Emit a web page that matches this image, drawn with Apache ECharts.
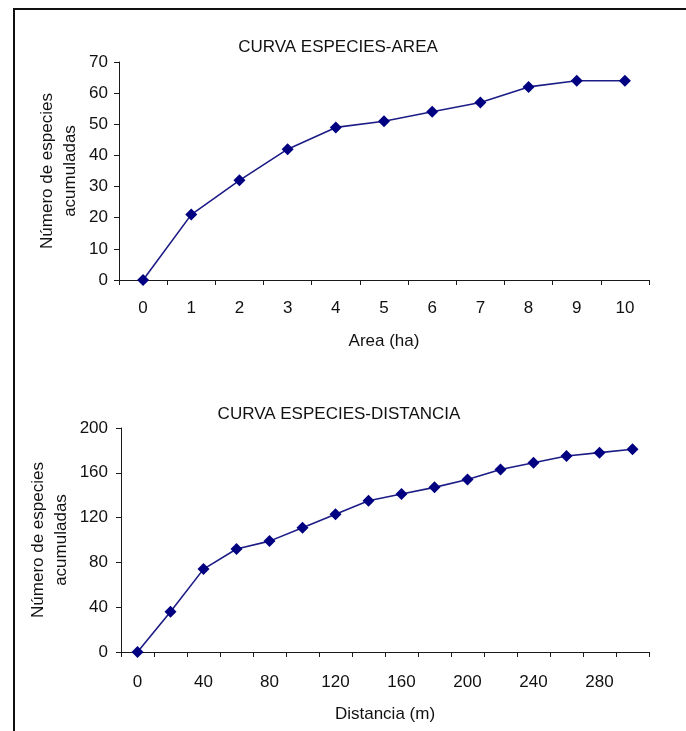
<!DOCTYPE html>
<html>
<head>
<meta charset="utf-8">
<script src="https://cdn.jsdelivr.net/npm/echarts@6/dist/echarts.min.js"></script>
<style>
html,body{margin:0;padding:0;background:#fff;}
#chart{width:686px;height:731px;}
</style>
</head>
<body>
<div id="chart"></div>
<script>
// ---- data ----
var areaCategories = ['0','1','2','3','4','5','6','7','8','9','10'];
var areaValues = [0, 21, 32, 42, 49, 51, 54, 57, 62, 64, 64];
var areaYTicks = {min: 0, max: 70, interval: 10};

var distCategories = ['0','20','40','60','80','100','120','140','160','180','200','220','240','260','280','300'];
var distValues = [0, 36, 74, 92, 99, 111, 123, 135, 141, 147, 154, 163, 169, 175, 178, 181];
var distYTicks = {min: 0, max: 200, interval: 40};

var titles = ['CURVA ESPECIES-AREA', 'CURVA ESPECIES-DISTANCIA'];
var yNames = ['Número de especies\nacumuladas', 'Número de especies\nacumuladas'];
var xNames = ['Area (ha)', 'Distancia (m)'];

// ---- chart ----
var FONT = '"Liberation Sans", Arial, sans-serif';
var TXT = '#111';
var AX = '#1a1a1a';
var chart = echarts.init(document.getElementById('chart'), null, {renderer: 'canvas'});

function xAxisCfg(idx, cats, name, labelInterval, margin, gap) {
  return {
    type: 'category', gridIndex: idx, data: cats, boundaryGap: true,
    name: name, nameLocation: 'middle', nameGap: gap, nameMoveOverlap: false,
    nameTextStyle: {color: TXT, fontSize: 17, fontFamily: FONT},
    axisLine: {lineStyle: {color: AX, width: 1}},
    axisTick: {show: true, interval: 0, length: 5, alignWithLabel: false, lineStyle: {color: AX}},
    axisLabel: {interval: labelInterval, margin: margin, color: TXT, fontSize: 17, fontFamily: FONT},
    splitLine: {show: false}
  };
}
function yAxisCfg(idx, t, name, gap, margin) {
  return {
    type: 'value', gridIndex: idx, min: t.min, max: t.max, interval: t.interval,
    name: name, nameLocation: 'middle', nameGap: gap, nameRotate: 90, nameMoveOverlap: false,
    nameTextStyle: {color: TXT, fontSize: 17, fontFamily: FONT, lineHeight: 23, align: 'center'},
    axisLine: {show: true, lineStyle: {color: AX, width: 1}},
    axisTick: {show: true, length: 5, lineStyle: {color: AX}},
    axisLabel: {margin: margin, color: TXT, fontSize: 17, fontFamily: FONT},
    splitLine: {show: false}
  };
}
function seriesCfg(idx, vals) {
  return {
    type: 'line', xAxisIndex: idx, yAxisIndex: idx, data: vals,
    symbol: 'diamond', symbolSize: [12, 12], showSymbol: true,
    lineStyle: {color: '#1c1c86', width: 1.6},
    itemStyle: {color: '#000080', borderWidth: 0},
    animation: false
  };
}

var option = {
  animation: false,
  backgroundColor: '#fff',
  title: [
    {text: titles[0], left: 333, top: 34, textAlign: 'center',
     textStyle: {color: TXT, fontSize: 17, fontWeight: 'normal', fontFamily: FONT}},
    {text: titles[1], left: 334, top: 401, textAlign: 'center',
     textStyle: {color: TXT, fontSize: 17, fontWeight: 'normal', fontFamily: FONT}}
  ],
  grid: [
    {left: 119, top: 62, width: 530, height: 218, containLabel: false},
    {left: 121, top: 428, width: 528, height: 224, containLabel: false}
  ],
  xAxis: [
    xAxisCfg(0, areaCategories, xNames[0], 0, 20, 53),
    xAxisCfg(1, distCategories, xNames[1], 1, 22, 54)
  ],
  yAxis: [
    yAxisCfg(0, areaYTicks, yNames[0], 37, 11),
    yAxisCfg(1, distYTicks, yNames[1], 48, 13)
  ],
  series: [
    seriesCfg(0, areaValues),
    seriesCfg(1, distValues)
  ],
  graphic: [
    {type: 'line', shape: {x1: 13, y1: 9, x2: 686, y2: 9}, style: {stroke: '#111', lineWidth: 2}, silent: true},
    {type: 'line', shape: {x1: 14, y1: 8, x2: 14, y2: 731}, style: {stroke: '#111', lineWidth: 2}, silent: true}
  ]
};
chart.setOption(option);
</script>
</body>
</html>
